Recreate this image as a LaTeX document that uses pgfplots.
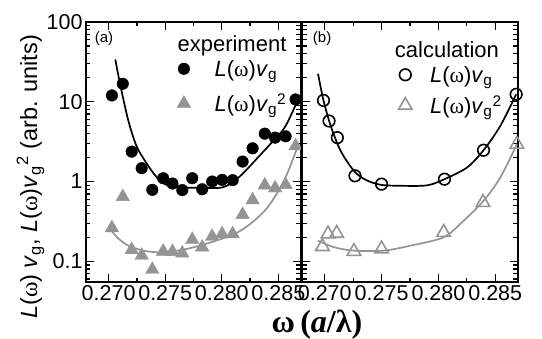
\documentclass[border=0pt]{standalone}
\usepackage{fontspec}
\setmainfont{Liberation Sans}
\newfontfamily\sergr{Liberation Serif}
\usepackage{pgfplots}
\pgfplotsset{compat=1.18}
\definecolor{lgray}{gray}{0.58}
\newcommand{\om}{{\sergr ω}}
\newcommand{\Lv}{\textit{L}(\om)\textit{v}\textsubscript{g}}
\pgfkeys{/pgf/number format/assume math mode=true}
\begin{document}
\begin{tikzpicture}
\useasboundingbox (-86pt,-57pt) rectangle (456pt,282pt);
\begin{axis}[scale only axis, height=260pt, width=215pt, at={(0pt,0pt)}, anchor=south west,
  ymode=log, xmin=0.268, xmax=0.287, ymin=0.055, ymax=100,
  xtick={0.270,0.275,0.280,0.285}, minor x tick num=1,
  ytick={0.1,1,10,100}, yticklabels={0.1,1,10,100},
  minor ytick={0.06,0.07,0.08,0.09,0.2,0.3,0.4,0.5,0.6,0.7,0.8,0.9,2,3,4,5,6,7,8,9,20,30,40,50,60,70,80,90},
  tick align=inside, xtick pos=both, ytick pos=both,
  major tick length=8pt, minor tick length=4.5pt,
  axis line style={line width=2pt},
  every tick/.style={line width=1.3pt, black},
  tick label style={font=\fontsize{21.5}{21.5}\selectfont},
  xticklabel style={/pgf/number format/fixed, /pgf/number format/fixed zerofill, /pgf/number format/precision=3},
  scaled x ticks=false,
  legend style={draw=none, fill=none, font=\fontsize{22}{24}\selectfont, row sep=12pt, inner sep=0pt, at={(0.423,0.862)}, anchor=north west, /tikz/every odd column/.append style={column sep=22pt}},
  legend cell align=left,
  xlabel={{\sergr\bfseries ω\,(\textit{a}/λ)}},
  xlabel style={at={(axis description cs:1.074,-0.165)}, anchor=center, font=\fontsize{32}{32}\selectfont},
  ylabel={\textit{L}(\om) \textit{v}\textsubscript{g}, \textit{L}(\om)\textit{v}\textsubscript{g}\textsuperscript{2} (arb. units)},
  ylabel style={at={(axis description cs:-0.258,0.404)}, rotate=0, anchor=center, font=\fontsize{23.5}{23.5}\selectfont},
]
\addplot[black, line width=1.7pt, smooth, forget plot] table {
0.27059 33.9
0.27105 15.7
0.27175 5.74
0.27246 2.79
0.27322 1.81
0.27395 1.28
0.27465 0.99
0.27570 0.86
0.27789 0.834
0.28009 0.846
0.28140 1.1
0.28228 1.45
0.28316 1.98
0.28430 2.96
0.28553 4.7
0.28640 8.3
0.28684 11.5
};
\addplot[lgray, line width=1.7pt, smooth, forget plot] table {
0.2700 0.266
0.27088 0.192
0.27175 0.157
0.27307 0.136
0.27439 0.1296
0.27570 0.134
0.27702 0.144
0.27904 0.173
0.28111 0.220
0.28254 0.296
0.28404 0.473
0.28550 1.02
0.28667 2.66
};
\addplot[only marks, mark=*, mark size=5.8pt, black] table {
0.27029 12.0
0.27125 16.8
0.27204 2.37
0.27292 1.47
0.27386 0.787
0.27482 1.10
0.27564 0.944
0.27651 0.781
0.27739 1.10
0.27827 0.80
0.27915 1.0
0.28003 1.05
0.28096 1.04
0.28184 1.78
0.28272 2.61
0.28380 3.98
0.28471 3.55
0.28564 3.69
0.28652 10.7
};
\addplot[only marks, mark=triangle*, mark size=7.8pt, lgray] table {
0.27029 0.262
0.27125 0.644
0.27204 0.139
0.27292 0.118
0.27386 0.0787
0.27482 0.133
0.27564 0.132
0.27651 0.126
0.27739 0.187
0.27827 0.150
0.27915 0.204
0.28003 0.220
0.28096 0.220
0.28184 0.384
0.28272 0.586
0.28380 0.90
0.28471 0.827
0.28564 0.91
0.28652 2.79
};
\legend{\Lv, \Lv\textsuperscript{2}}
\node[font=\fontsize{22}{22}\selectfont] at (rel axis cs:0.679,0.91) {experiment};
\node[font=\fontsize{15}{15}\selectfont] at (rel axis cs:0.084,0.935) {(a)};
\end{axis}
\begin{axis}[scale only axis, height=260pt, width=216pt, at={(216pt,0pt)}, anchor=south west,
  ymode=log, xmin=0.268, xmax=0.287, ymin=0.055, ymax=100,
  xtick={0.270,0.275,0.280,0.285}, minor x tick num=1,
  ytick={0.1,1,10,100}, yticklabels={},
  minor ytick={0.06,0.07,0.08,0.09,0.2,0.3,0.4,0.5,0.6,0.7,0.8,0.9,2,3,4,5,6,7,8,9,20,30,40,50,60,70,80,90},
  tick align=inside, xtick pos=both, ytick pos=both,
  major tick length=8pt, minor tick length=4.5pt,
  axis line style={line width=2pt},
  every tick/.style={line width=1.3pt, black},
  tick label style={font=\fontsize{21.5}{21.5}\selectfont},
  xticklabel style={/pgf/number format/fixed, /pgf/number format/fixed zerofill, /pgf/number format/precision=3},
  scaled x ticks=false,
  legend style={draw=none, fill=none, font=\fontsize{22}{24}\selectfont, row sep=8pt, inner sep=0pt, at={(0.446,0.839)}, anchor=north west, /tikz/every odd column/.append style={column sep=16pt}},
  legend cell align=left,
]
\addplot[black, line width=1.7pt, smooth, forget plot] table {
0.26941 22.4
0.26989 10.4
0.27053 4.97
0.27140 2.42
0.27257 1.36
0.27360 1.05
0.27491 0.91
0.27667 0.884
0.27901 0.896
0.28053 1.07
0.28252 1.50
0.28397 2.47
0.28544 4.97
0.28684 12.4
};
\addplot[lgray, line width=1.7pt, smooth, forget plot] table {
0.26941 0.181
0.27082 0.150
0.27257 0.136
0.27520 0.136
0.27754 0.157
0.28046 0.200
0.28222 0.323
0.28397 0.574
0.28544 1.12
0.28690 2.93
};
\addplot[only marks, mark=o, mark size=5.8pt, line width=1.6pt, black] table {
0.26989 10.4
0.27038 5.74
0.27111 3.55
0.27266 1.18
0.27500 0.928
0.28053 1.07
0.28397 2.47
0.28684 12.4
};
\addplot[only marks, mark=triangle, mark size=7.8pt, line width=1.6pt, lgray] table {
0.26980 0.153
0.27029 0.220
0.27105 0.224
0.27257 0.133
0.27500 0.143
0.28046 0.230
0.28392 0.546
0.28690 2.93
};
\legend{\Lv, \Lv\textsuperscript{2}}
\node[font=\fontsize{22}{22}\selectfont] at (rel axis cs:0.671,0.895) {calculation};
\node[font=\fontsize{15}{15}\selectfont] at (rel axis cs:0.093,0.938) {(b)};
\end{axis}
\end{tikzpicture}
\end{document}
